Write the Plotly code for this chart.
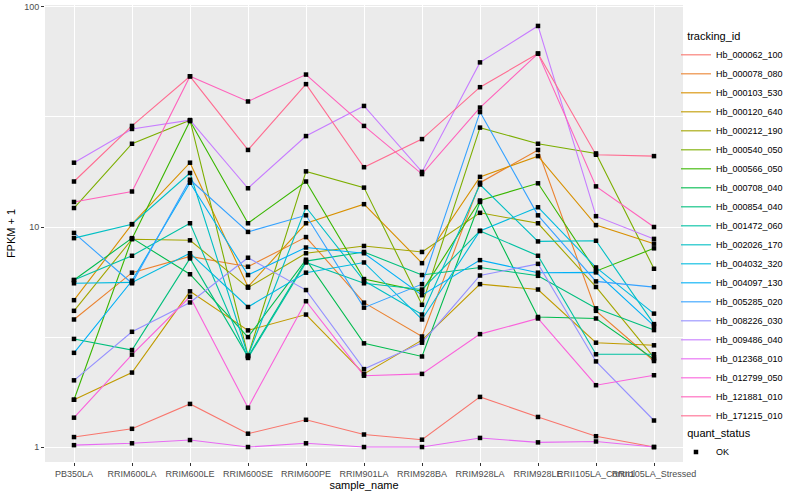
import plotly.graph_objects as go

samples = ["PB350LA", "RRIM600LA", "RRIM600LE", "RRIM600SE", "RRIM600PE", "RRIM901LA",
           "RRIM928BA", "RRIM928LA", "RRIM928LE", "RRII105LA_Control", "RRII105LA_Stressed"]

tracking_ids = ["Hb_000062_100", "Hb_000078_080", "Hb_000103_530", "Hb_000120_640", "Hb_000212_190",
                "Hb_000540_050", "Hb_000566_050", "Hb_000708_040", "Hb_000854_040", "Hb_001472_060",
                "Hb_002026_170", "Hb_004032_320", "Hb_004097_130", "Hb_005285_020", "Hb_008226_030",
                "Hb_009486_040", "Hb_012368_010", "Hb_012799_050", "Hb_121881_010", "Hb_171215_010"]

colors = ["#F8766D", "#EA8331", "#D89000", "#C09B00", "#A3A500", "#7CAE00", "#39B600", "#00BB4E",
          "#00BF7D", "#00C1A3", "#00BFC4", "#00BAE0", "#00B0F6", "#35A2FF", "#9590FF", "#C77CFF",
          "#E76BF3", "#FA62DB", "#FF62BC", "#FF6C91"]

# FPKM + 1 values, one list per tracking_id (order of samples)
hb_000062_100 = [1.11, 1.21, 1.57, 1.15, 1.33, 1.14, 1.08, 1.69, 1.37, 1.12, 1.00]
hb_000078_080 = [3.8, 6.2, 7.35, 6.6, 9.0, 4.53, 3.18, 15.9, 22.4, 4.16, 2.46]
hb_000103_530 = [4.65, 10.3, 19.6, 5.35, 10.4, 12.7, 6.85, 16.9, 21.0, 10.2, 8.4]
hb_000120_640 = [1.64, 2.18, 5.1, 3.39, 4.0, 2.15, 3.06, 5.5, 5.2, 2.98, 2.9]
hb_000212_190 = [4.16, 8.8, 8.7, 5.3, 7.6, 8.2, 7.7, 11.6, 10.4, 5.34, 2.55]
hb_000540_050 = [12.2, 23.9, 30.6, 2.6, 17.9, 15.1, 4.43, 28.3, 23.9, 21.6, 6.46]
hb_000566_050 = [1.64, 8.85, 30.3, 10.4, 16.1, 5.8, 5.1, 13.2, 15.8, 6.3, 8.0]
hb_000708_040 = [5.74, 8.9, 6.1, 3.16, 7.1, 2.96, 2.58, 13.0, 3.9, 3.84, 2.51]
hb_000854_040 = [3.1, 2.76, 7.2, 2.57, 7.0, 7.7, 6.05, 6.55, 6.0, 4.27, 3.4]
hb_001472_060 = [5.74, 7.4, 10.4, 2.54, 6.9, 5.55, 5.2, 9.6, 7.4, 2.64, 2.64]
hb_002026_170 = [8.9, 10.3, 17.6, 2.6, 12.3, 5.7, 4.0, 15.6, 8.6, 8.66, 3.62]
hb_004032_320 = [5.55, 5.6, 7.6, 4.33, 6.2, 6.9, 3.8, 9.6, 12.3, 6.55, 4.04]
hb_004097_130 = [2.68, 5.7, 15.9, 6.05, 8.07, 7.6, 4.9, 7.07, 6.2, 6.22, 3.55]
hb_005285_020 = [9.4, 5.55, 16.4, 9.5, 11.3, 4.3, 5.5, 33.3, 11.3, 5.66, 5.33]
hb_008226_030 = [2.01, 3.34, 4.54, 7.25, 5.17, 2.26, 2.98, 6.02, 6.8, 2.45, 1.32]
hb_009486_040 = [19.6, 27.9, 30.6, 15.0, 25.9, 35.5, 17.8, 56.0, 82.0, 11.2, 8.83]
hb_012368_010 = [1.02, 1.04, 1.076, 1.0, 1.04, 1.0, 1.0, 1.10, 1.05, 1.06, 1.0]
hb_012799_050 = [1.36, 2.63, 4.82, 1.51, 4.6, 2.11, 2.15, 3.26, 3.84, 1.91, 2.12]
hb_121881_010 = [13.0, 14.5, 48.4, 37.2, 49.3, 28.8, 17.4, 34.9, 61.4, 15.3, 10.0]
hb_171215_010 = [16.1, 28.8, 48.4, 22.4, 44.6, 18.7, 25.1, 43.2, 61.4, 21.3, 21.0]

series = [hb_000062_100, hb_000078_080, hb_000103_530, hb_000120_640, hb_000212_190,
          hb_000540_050, hb_000566_050, hb_000708_040, hb_000854_040, hb_001472_060,
          hb_002026_170, hb_004032_320, hb_004097_130, hb_005285_020, hb_008226_030,
          hb_009486_040, hb_012368_010, hb_012799_050, hb_121881_010, hb_171215_010]

FONT = "Liberation Sans, Arial, sans-serif"

fig = go.Figure()
for name, col, vals in zip(tracking_ids, colors, series):
    fig.add_trace(go.Scatter(x=samples, y=vals, mode="lines", name=name,
                             line=dict(color=col, width=1.1), legend="legend"))

all_x = [s for vals in series for s in samples]
all_y = [v for vals in series for v in vals]
fig.add_trace(go.Scatter(x=all_x, y=all_y, mode="markers", name="OK",
                         marker=dict(symbol="square", color="black", size=4.5),
                         legend="legend2"))

fig.update_layout(
    width=800, height=500,
    margin=dict(l=45, r=117, t=5, b=38, autoexpand=False),
    paper_bgcolor="white", plot_bgcolor="#EBEBEB",
    font=dict(family=FONT, size=9, color="#4D4D4D"),
    xaxis=dict(type="category", range=[-0.5, 10.5], showgrid=True, gridcolor="white", gridwidth=1.1,
               tickangle=0, automargin=False,
               ticks="outside", ticklen=3, tickcolor="#333333", tickfont=dict(size=9, color="#4D4D4D"),
               title=dict(text="sample_name", font=dict(size=11, color="black"), standoff=3),
               zeroline=False, showline=False),
    yaxis=dict(type="log", range=[-0.068, 2.009], tickvals=[1, 10, 100], ticktext=["1", "10", "100"],
               showgrid=True, gridcolor="white", gridwidth=1.1, automargin=False,
               minor=dict(tickvals=[10 ** 0.5, 10 ** 1.5], showgrid=True, gridcolor="white", gridwidth=0.5, ticks=""),
               ticks="outside", ticklen=3, tickcolor="#333333", tickfont=dict(size=9, color="#4D4D4D"),
               title=dict(text="FPKM + 1", font=dict(size=11, color="black"), standoff=6),
               zeroline=False, showline=False),
    legend=dict(x=0.989, y=0.954, xanchor="left", yanchor="top", bgcolor="rgba(0,0,0,0)",
                title=dict(text="\u00a0\u00a0\u00a0tracking_id", font=dict(size=11, color="black")),
                font=dict(size=9, color="black"), tracegroupgap=0, itemwidth=30),
    legend2=dict(x=0.989, y=0.085, xanchor="left", yanchor="top", bgcolor="rgba(0,0,0,0)",
                 title=dict(text="\u00a0\u00a0\u00a0quant_status", font=dict(size=11, color="black")),
                 font=dict(size=9, color="black"), itemwidth=30),
    showlegend=True,
)

# remove the browser's default 8px body margin so the figure sits at the page origin
fig.write_html("out.html", config={"displayModeBar": False},
               post_script="document.body.style.margin='0px';")
